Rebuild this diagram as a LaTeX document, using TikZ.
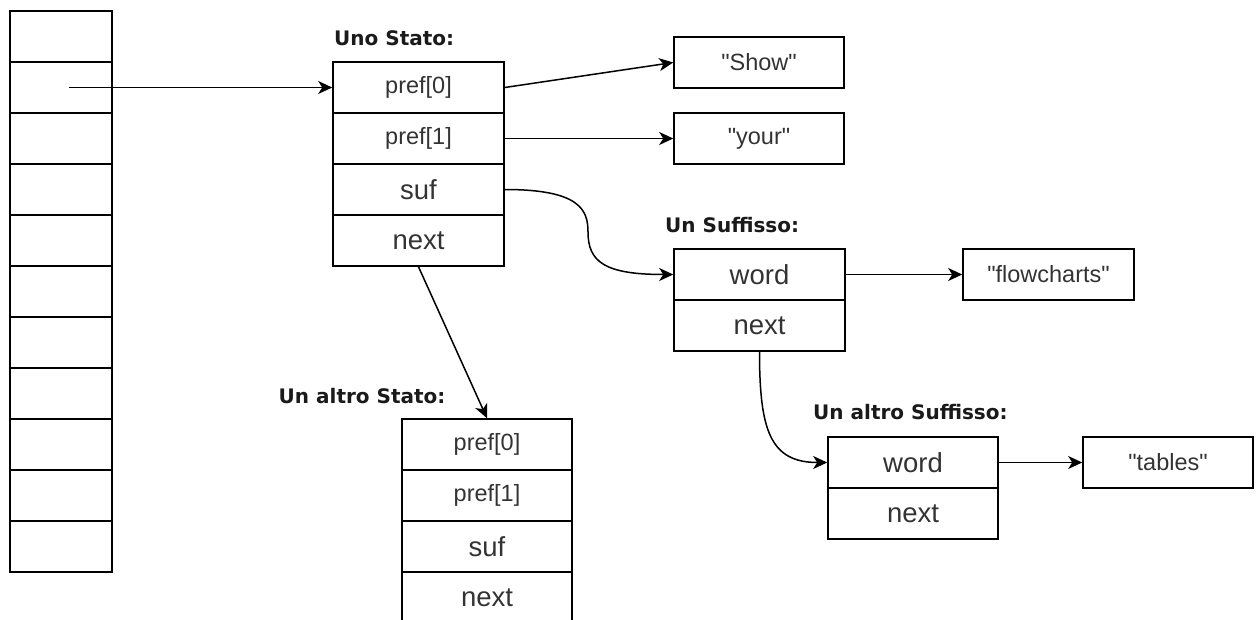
\documentclass[tikz,border=0pt]{standalone}
\usepackage{fontspec}
\setmainfont{Liberation Sans}[Ligatures=TeXOff]
\newfontfamily\lblfont{DejaVu Sans}
\usetikzlibrary{arrows.meta}
\definecolor{txt}{HTML}{333333}
\definecolor{lbl}{HTML}{1A1A1A}
\newcommand{\dq}{\symbol{34}}
\tikzset{
  base/.style={draw=black, line width=1.6pt, rectangle, inner sep=0pt, text=txt},
  arr/.style={base, minimum width=102pt, minimum height=51pt},
  cellbig/.style={base, minimum width=171pt, minimum height=51pt, font=\fontsize{27.5}{30}\selectfont},
  cellsmall/.style={base, minimum width=171pt, minimum height=51pt, font=\fontsize{23.5}{26}\selectfont},
  strbox/.style={base, minimum width=170pt, minimum height=51pt, font=\fontsize{23.5}{26}\selectfont},
  title/.style={anchor=base west, inner sep=0pt, text=lbl, font=\lblfont\bfseries\fontsize{20}{24}\selectfont},
  link/.style={draw=black, line width=1.5pt, -{Stealth[length=14pt,width=13pt,inset=4pt]}}
}
\begin{document}
\begin{tikzpicture}[x=1pt,y=-1pt]
\useasboundingbox (0,0) rectangle (1258,620);
\clip (0,0) rectangle (1258,620);
% left array
\foreach \k in {0,...,10} {
  \node[arr] (a\k) at (61,{36.5+51*\k}) {};
}
\coordinate (p) at (69,87.5);
% Uno Stato
\node[title] (tUno) at (334,46) {Uno Stato:};
\node[cellsmall] (s0) at (418.5,87.5) {pref[0]};
\node[cellsmall] (s1) at (418.5,138.5) {pref[1]};
\node[cellbig] (s2) at (418.5,189.5) {suf};
\node[cellbig] (s3) at (418.5,240.5) {next};
% strings
\node[strbox] (show) at (759,62.5) {\dq Show\dq};
\node[strbox] (your) at (759,138.5) {\dq your\dq};
% Un Suffisso
\node[title] (tSuf) at (665,232.5) {Un Suffisso:};
\node[cellbig] (w1) at (759.5,274.5) {word};
\node[cellbig] (n1) at (759.5,325.5) {next};
\node[strbox, minimum width=171pt] (fc) at (1048.5,274.5) {\dq flowcharts\dq};
% Un altro Stato
\node[title] (tAltro) at (278.5,403) {Un altro Stato:};
\node[cellsmall, minimum width=170pt] (t0) at (487,444.5) {pref[0]};
\node[cellsmall, minimum width=170pt] (t1) at (487,495.5) {pref[1]};
\node[cellbig, minimum width=170pt] (t2) at (487,546.5) {suf};
\node[cellbig, minimum width=170pt] (t3) at (487,597.5) {next};
% Un altro Suffisso
\node[title] (tAltroSuf) at (813,419.5) {Un altro Suffisso:};
\node[cellbig, minimum width=170pt] (w2) at (913,462.5) {word};
\node[cellbig, minimum width=170pt] (n2) at (913,513.5) {next};
\node[strbox] (tb) at (1168,462.5) {\dq tables\dq};
% connectors
\draw[link] (p) -- (s0.west);
\draw[link] (s0.east) -- (show.west);
\draw[link] (s1.east) -- (your.west);
\draw[link] (s2.east) .. controls (580,189.5) and (588,210) .. (588,232) .. controls (588,262) and (605,274.5) .. (w1.west);
\draw[link] (w1.east) -- (fc.west);
\draw[link] (s3.south) -- (t0.north);
\draw[link] (n1.south) .. controls (759.5,430) and (770,462.5) .. (w2.west);
\draw[link] (w2.east) -- (tb.west);
\end{tikzpicture}
\end{document}
